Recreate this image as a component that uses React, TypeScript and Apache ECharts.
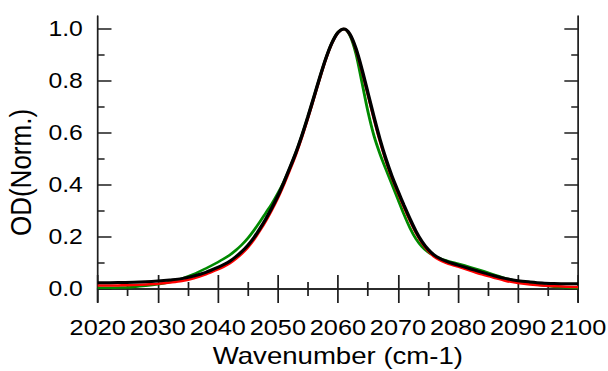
import React, { useEffect, useRef } from "react";
import * as echarts from "echarts";

const wavenumbers = [
  2020, 2022, 2024, 2026, 2028, 2030, 2032, 2034, 2036, 2038, 2040,
  2041, 2042, 2043, 2044, 2045, 2046, 2047, 2048, 2049, 2050,
  2051, 2052, 2053, 2054, 2055, 2056, 2057, 2058, 2059, 2060,
  2061, 2062, 2063, 2064, 2065, 2066, 2067, 2068, 2069, 2070,
  2071, 2072, 2073, 2074, 2075, 2076, 2077, 2078, 2079, 2080,
  2082, 2084, 2086, 2088, 2090, 2092, 2094, 2096, 2098, 2100,
];

const blackValues = [
  0.024, 0.024, 0.025, 0.026, 0.028, 0.031, 0.035, 0.04, 0.05, 0.064, 0.083,
  0.094, 0.107, 0.124, 0.144, 0.168, 0.197, 0.232, 0.27, 0.312, 0.358,
  0.41, 0.466, 0.524, 0.59, 0.662, 0.738, 0.815, 0.887, 0.946, 0.986,
  1.0, 0.98, 0.925, 0.845, 0.754, 0.662, 0.576, 0.5, 0.434, 0.377,
  0.322, 0.27, 0.222, 0.183, 0.153, 0.131, 0.117, 0.107, 0.099, 0.092,
  0.078, 0.064, 0.051, 0.04, 0.032, 0.027, 0.023, 0.021, 0.02, 0.02,
];

const redValues = [
  0.013, 0.013, 0.014, 0.015, 0.017, 0.02, 0.025, 0.031, 0.041, 0.056, 0.075,
  0.086, 0.099, 0.116, 0.136, 0.16, 0.189, 0.224, 0.262, 0.304, 0.35,
  0.402, 0.458, 0.517, 0.584, 0.657, 0.734, 0.812, 0.885, 0.945, 0.986,
  1.0, 0.979, 0.921, 0.839, 0.747, 0.655, 0.569, 0.493, 0.427, 0.37,
  0.315, 0.263, 0.216, 0.177, 0.147, 0.125, 0.111, 0.101, 0.093, 0.086,
  0.071, 0.056, 0.043, 0.031, 0.023, 0.017, 0.013, 0.011, 0.009, 0.008,
];

const greenValues = [
  0.005, 0.005, 0.006, 0.008, 0.012, 0.018, 0.027, 0.04, 0.057, 0.079, 0.103,
  0.116, 0.131, 0.149, 0.17, 0.195, 0.225, 0.258, 0.293, 0.328, 0.368,
  0.413, 0.466, 0.524, 0.59, 0.662, 0.738, 0.815, 0.887, 0.947, 0.987,
  1.0, 0.975, 0.905, 0.795, 0.683, 0.59, 0.52, 0.46, 0.403, 0.345,
  0.287, 0.235, 0.193, 0.163, 0.142, 0.128, 0.118, 0.11, 0.103, 0.097,
  0.084, 0.07, 0.055, 0.041, 0.03, 0.021, 0.014, 0.009, 0.006, 0.004,
];

const yMajorTicks = [0, 0.2, 0.4, 0.6, 0.8, 1.0];
const yMinorTicks = [0.1, 0.3, 0.5, 0.7, 0.9];

const FONT = "Liberation Sans, Arial, Helvetica, sans-serif";
const OUTER_W = 608;
const OUTER_H = 371;
const INNER_W = 529;
const STRETCH = OUTER_W / INNER_W;
const AXIS_COLOR = "#1e1e1e";

function pairs(values: number[]) {
  return wavenumbers.map((w, i) => [w, values[i]]);
}

export default function App() {
  const ref = useRef<HTMLDivElement>(null);

  useEffect(() => {
    if (!ref.current) return;
    const chart = echarts.init(ref.current, undefined, { renderer: "svg" });

    const lineStyle = { color: AXIS_COLOR, width: 1.5 };

    const xCommon = {
      type: "value" as const,
      min: 2020,
      max: 2100,
      interval: 10,
      splitLine: { show: false },
      minorSplitLine: { show: false },
      axisLine: { show: true, lineStyle },
      axisTick: { show: true, inside: true, length: 14, lineStyle },
      minorTick: { show: true, splitNumber: 2, length: 7, lineStyle },
    };

    const yCommon = {
      type: "value" as const,
      min: -0.05,
      max: 1.05,
      splitLine: { show: false },
    };

    const option: any = {
      animation: false,
      backgroundColor: "#ffffff",
      grid: {
        left: 85,
        right: 26,
        top: 16,
        bottom: 69,
        containLabel: false,
        outerBoundsMode: "none",
      },
      xAxis: [
        {
          ...xCommon,
          position: "bottom",
          axisLabel: {
            show: true,
            interval: 0,
            showMinLabel: true,
            showMaxLabel: true,
            hideOverlap: false,
            fontSize: 22,
            margin: 15,
            color: "#000",
            fontFamily: FONT,
            formatter: (v: number) => String(Math.round(v)),
          },
          name: "Wavenumber (cm-1)",
          nameLocation: "middle",
          nameGap: 42,
          nameTextStyle: { fontSize: 24, color: "#000", fontFamily: FONT },
        },
        {
          ...xCommon,
          position: "top",
          axisLabel: { show: false },
        },
      ],
      yAxis: [
        {
          ...yCommon,
          position: "left",
          axisLine: { show: true, lineStyle },
          axisTick: { show: true, inside: true, length: 12, lineStyle, customValues: yMajorTicks },
          axisLabel: {
            show: true,
            fontSize: 21.5,
            margin: 13,
            color: "#000",
            fontFamily: FONT,
            customValues: yMajorTicks,
            formatter: (v: number) => v.toFixed(1),
          },
          name: "OD(Norm.)",
          nameLocation: "middle",
          nameGap: 52,
          nameRotate: 90,
          nameTextStyle: {
            fontSize: 26,
            color: "#000",
            fontFamily: FONT,
            padding: [0, 27, 0, 0],
          },
        },
        {
          ...yCommon,
          position: "left",
          axisLine: { show: false },
          axisTick: { show: true, inside: true, length: 6, lineStyle, customValues: yMinorTicks },
          axisLabel: { show: false },
        },
        {
          ...yCommon,
          position: "right",
          axisLine: { show: true, lineStyle },
          axisTick: { show: true, inside: true, length: 12, lineStyle, customValues: yMajorTicks },
          axisLabel: { show: false },
        },
        {
          ...yCommon,
          position: "right",
          axisLine: { show: false },
          axisTick: { show: true, inside: true, length: 6, lineStyle, customValues: yMinorTicks },
          axisLabel: { show: false },
        },
      ],
      series: [
        {
          name: "green",
          type: "line",
          xAxisIndex: 0,
          yAxisIndex: 0,
          data: pairs(greenValues),
          showSymbol: false,
          smooth: 0.3,
          lineStyle: { color: "#008a00", width: 2.5 },
          z: 2,
        },
        {
          name: "red",
          type: "line",
          xAxisIndex: 0,
          yAxisIndex: 0,
          data: pairs(redValues),
          showSymbol: false,
          smooth: 0.3,
          lineStyle: { color: "#ff0000", width: 2.5 },
          z: 3,
        },
        {
          name: "black",
          type: "line",
          xAxisIndex: 0,
          yAxisIndex: 0,
          data: pairs(blackValues),
          showSymbol: false,
          smooth: 0.3,
          lineStyle: { color: "#000000", width: 3 },
          z: 4,
        },
      ],
    };

    chart.setOption(option);
    return () => chart.dispose();
  }, []);

  return (
    <div
      style={{
        position: "fixed",
        left: 0,
        top: 0,
        width: OUTER_W,
        height: OUTER_H,
        overflow: "hidden",
        background: "#fff",
      }}
    >
      <div
        ref={ref}
        style={{
          width: INNER_W,
          height: OUTER_H,
          transform: `scaleX(${STRETCH})`,
          transformOrigin: "0 0",
        }}
      />
    </div>
  );
}
